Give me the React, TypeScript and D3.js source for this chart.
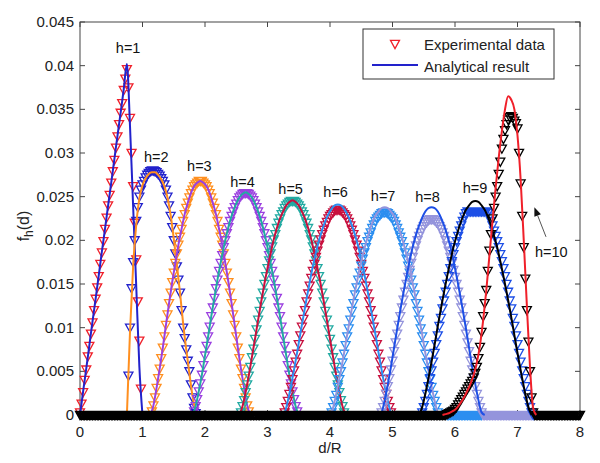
import React from 'react';
import * as d3 from 'd3';

// ---------- data (values in units of 1e-4) ----------
const STEP_EXP = 0.025;
const STEP_ANA = 0.05;

const xTicks = [0, 1, 2, 3, 4, 5, 6, 7, 8];
const yTicks = [0, 0.005, 0.01, 0.015, 0.02, 0.025, 0.03, 0.035, 0.04, 0.045];
const yTickLabels = ['0', '0.005', '0.01', '0.015', '0.02', '0.025', '0.03', '0.035', '0.04', '0.045'];

const hNames = ['h=1', 'h=2', 'h=3', 'h=4', 'h=5', 'h=6', 'h=7', 'h=8', 'h=9', 'h=10'];
const hLabelD = [0.77, 1.22, 1.91, 2.6, 3.37, 4.09, 4.85, 5.56, 6.32, 7.54];
const hLabelF = [0.0414, 0.029, 0.0279, 0.0261, 0.0253, 0.025, 0.0245, 0.0244, 0.0254, 0.0181];

const seriesColors = ['#f0202a', '#2222cc', '#ff8f1f', '#9b40e0', '#22aaa2', '#c8103e', '#2b8ef0', '#9494dc', '#1d4fe6', '#000000'];

const expStart = [0, 0.75, 1.125, 1.8, 2.55, 3.25, 4.0, 4.8, 5.45, 5.85];
const exp1 = [3,13,26,40,52,67,79,93,106,120,133,146,159,173,186,199,213,226,240,252,266,279,292,306,319,333,346,357,372,385,396,375,340,300,262,220,178,130,85,30,0];
const exp2 = [0,45,100,145,175,200,222,238,250,258,264,268,272,275,277,279,280,280,279,278,276,274,271,268,264,258,250,240,228,215,200,185,170,155,140,120,100,88,75,62,50,35,20,8,2,0];
const exp3 = [0,4,11,20,31,42,53,65,77,90,103,115,128,140,152,163,174,185,195,204,213,222,230,237,243,249,254,258,262,264,266,268,268,268,266,264,262,258,254,249,243,237,230,222,213,204,195,185,174,163,152,140,128,115,103,90,77,65,53,42,31,20,11,4,0];
const exp4 = [0,4,10,18,27,36,46,57,68,79,90,101,113,123,134,145,155,165,174,183,192,200,208,215,222,228,233,238,242,246,249,251,253,254,254,254,253,251,249,246,242,238,233,228,222,215,208,200,192,183,174,165,155,145,134,123,113,101,90,79,68,57,46,36,27,18,10,4,0];
const exp5 = [0,3,10,17,26,35,45,55,66,76,87,98,109,119,130,140,150,159,168,177,185,193,201,207,214,220,225,230,233,237,240,242,244,245,245,245,244,242,240,237,233,230,225,220,214,207,201,193,185,177,168,159,150,140,130,119,109,98,87,76,66,55,45,35,26,17,10,3,0];
const exp6 = [0,3,9,16,24,32,41,51,61,70,81,91,101,110,120,130,139,148,157,165,173,181,188,195,201,207,212,217,221,225,228,230,232,234,235,235,235,234,232,230,228,225,221,217,212,207,201,195,188,181,173,165,157,148,139,130,120,110,101,91,81,70,61,51,41,32,24,16,9,3,0];
const exp7 = [0,3,9,16,23,32,41,50,60,70,80,90,99,109,119,128,138,146,155,163,171,179,186,192,199,204,209,214,218,222,225,227,229,231,232,232,232,231,229,227,225,222,218,214,209,204,199,192,186,179,171,163,155,146,138,128,119,109,99,90,80,70,60,50,41,32,23,16,9,3,0];
const exp8 = [0,3,9,16,24,33,42,52,62,73,83,93,103,113,123,132,141,150,158,166,174,181,188,194,200,205,209,213,216,219,221,223,224,224,224,223,221,219,216,213,209,205,200,194,188,181,174,166,158,150,141,132,123,113,103,93,83,73,62,52,42,33,24,16,9,3,0];
const exp9 = [0,3,9,16,24,33,42,51,61,71,81,91,102,111,122,131,141,150,159,168,176,184,192,199,205,211,217,222,227,231,233,233,233,233,233,233,233,233,233,233,233,233,233,231,227,222,217,211,205,199,192,184,176,168,159,150,141,131,122,111,102,91,81,71,61,51,42,33,24,16,9,3,0];
const exp10 = [0,1,2,3,4,5,7,9,12,15,18,21,24,27,30,33,36,39,43,48,55,65,78,95,113,128,143,165,188,207,225,237,250,262,276,290,305,316,326,333,338,341,342,340,337,334,328,300,265,228,192,156,120,84,50,20,3,0];

const anaStart = [0, 0.75, 1.125, 1.8, 2.55, 3.225, 3.975, 4.775, 5.425, 5.8];
const ana1 = [0,27,53,80,107,133,160,187,213,240,266,293,320,346,373,402,331,239,147,55,0];
const ana2 = [0,95,170,218,248,263,271,276,278,278,275,270,262,249,229,202,172,140,105,75,48,22,5,0];
const ana3 = [0,11,31,53,77,103,128,152,174,195,213,230,243,254,262,266,268,266,262,254,243,230,213,195,174,152,128,103,77,53,31,11,0];
const ana4 = [0,10,27,46,68,90,113,134,155,174,192,208,222,233,242,249,253,255,253,249,242,233,222,208,192,174,155,134,113,90,68,46,27,10,0];
const ana5 = [0,10,26,45,66,87,109,130,150,168,185,201,214,225,233,240,244,246,244,240,233,225,214,201,185,168,150,130,109,87,66,45,26,10,0];
const ana6 = [0,3,16,33,52,72,93,113,133,152,170,186,200,212,222,230,236,240,241,240,236,230,222,212,200,186,170,152,133,113,93,72,52,33,16,3,0];
const ana7 = [0,3,16,33,51,71,92,112,132,150,168,183,197,209,220,228,233,237,238,237,233,228,220,209,197,183,168,150,132,112,92,71,51,33,16,3,0];
const ana8 = [0,3,17,35,55,77,99,120,140,159,177,193,206,217,226,233,237,238,237,233,226,217,206,193,177,159,140,120,99,77,55,35,17,3,0];
const ana9 = [0,9,24,42,61,81,102,122,141,159,176,192,205,217,227,235,240,244,245,244,240,235,227,217,205,192,176,159,141,122,102,81,61,42,24,9,0];
const ana10 = [0,1,2,4,6,10,15,21,28,36,46,60,80,108,142,182,222,260,295,325,350,365,361,350,320,270,200,125,55,8,0];

const expSeries = [exp1, exp2, exp3, exp4, exp5, exp6, exp7, exp8, exp9, exp10];
const anaSeries = [ana1, ana2, ana3, ana4, ana5, ana6, ana7, ana8, ana9, ana10];

// ---------- layout ----------
const W = 600;
const H = 463;
const M = { left: 80, right: 580, top: 22, bottom: 415 };
const FONT = "'Liberation Sans', Arial, Helvetica, sans-serif";

const x = d3.scaleLinear().domain([0, 8]).range([M.left, M.right]);
const y = d3.scaleLinear().domain([0, 0.045]).range([M.bottom, M.top]);

const grid = d3.range(0, 321).map((i) => +(i * STEP_EXP).toFixed(4));

function fullExp(start: number, vals: number[]) {
  return grid.map((d) => {
    const j = Math.round((d - start) / STEP_EXP);
    return j >= 0 && j < vals.length ? vals[j] / 1e4 : 0;
  });
}

const fullSeries = expSeries.map((v, k) => fullExp(expStart[k], v));
// for zero-valued markers, only the top-most (last drawn) series is visible at each point
const topZero = grid.map((_, i) => {
  let last = -1;
  fullSeries.forEach((s, k) => {
    if (s[i] === 0) last = k;
  });
  return last;
});

function triPath(vals: number[], k: number) {
  return grid
    .map((d, i) => {
      if (vals[i] === 0 && topZero[i] !== k) return '';
      const px = x(d);
      const py = y(vals[i]);
      return `M${(px - 4.5).toFixed(2)},${(py - 3.6).toFixed(2)}L${(px + 4.5).toFixed(2)},${(py - 3.6).toFixed(2)}L${px.toFixed(2)},${(py + 4.6).toFixed(2)}Z`;
    })
    .join('');
}

const lineGen = d3
  .line<[number, number]>()
  .x((p) => x(p[0]))
  .y((p) => y(p[1]))
  .curve(d3.curveMonotoneX);

function anaPath(start: number, vals: number[]) {
  const pts: [number, number][] = vals.map((v, j) => [start + j * STEP_ANA, v / 1e4]);
  return lineGen(pts) || '';
}

export default function App() {
  const arrowFrom = [x(7.456), y(0.0204)];
  const arrowTo = [x(7.27), y(0.0238)];
  const ang = Math.atan2(arrowTo[1] - arrowFrom[1], arrowTo[0] - arrowFrom[0]);
  const ah = 9;
  const aw = 3.5;
  const bx = arrowTo[0] - ah * Math.cos(ang);
  const by = arrowTo[1] - ah * Math.sin(ang);
  const headPts = [
    [arrowTo[0], arrowTo[1]],
    [bx + aw * Math.sin(ang), by - aw * Math.cos(ang)],
    [bx - aw * Math.sin(ang), by + aw * Math.cos(ang)],
  ]
    .map((p) => p.join(','))
    .join(' ');

  return (
    <svg
      width={W}
      height={H}
      viewBox={`0 0 ${W} ${H}`}
      style={{ position: 'absolute', left: 0, top: 0, background: '#fff' }}
      fontFamily={FONT}
    >
      <rect x={0} y={0} width={W} height={H} fill="#fff" />
      {/* plot box */}
      <rect x={M.left} y={M.top} width={M.right - M.left} height={M.bottom - M.top} fill="#fff" stroke="#444" strokeWidth={1} />
      {/* ticks */}
      {xTicks.map((t) => (
        <g key={'xt' + t}>
          <line x1={x(t)} x2={x(t)} y1={M.bottom} y2={M.bottom - 5} stroke="#444" />
          <line x1={x(t)} x2={x(t)} y1={M.top} y2={M.top + 5} stroke="#444" />
          <text x={x(t)} y={437} textAnchor="middle" fontSize={15} fill="#222">
            {t}
          </text>
        </g>
      ))}
      {yTicks.map((t, i) => (
        <g key={'yt' + t}>
          <line x1={M.left} x2={M.left + 5} y1={y(t)} y2={y(t)} stroke="#444" />
          <line x1={M.right} x2={M.right - 5} y1={y(t)} y2={y(t)} stroke="#444" />
          <text x={74} y={y(t) + 5} textAnchor="end" fontSize={15} fill="#222">
            {yTickLabels[i]}
          </text>
        </g>
      ))}
      {/* axis titles */}
      <text x={(M.left + M.right) / 2} y={453} textAnchor="middle" fontSize={15} fill="#222">
        d/R
      </text>
      <text transform="translate(29,226) rotate(-90)" textAnchor="middle" fontSize={16} fill="#222">
        f<tspan fontSize={12} dy={4}>h</tspan>
        <tspan dy={-4}>(d)</tspan>
      </text>

      {/* series */}
      {fullSeries.map((full, k) => (
        <g key={'s' + k}>
          <path d={triPath(full, k)} fill="none" stroke={seriesColors[k]} strokeWidth={1.3} />
          <path d={anaPath(anaStart[k], anaSeries[k])} fill="none" stroke={seriesColors[(k + 1) % 10]} strokeWidth={2} />
        </g>
      ))}

      {/* h labels */}
      {hNames.map((n, k) => (
        <text key={n} x={x(hLabelD[k])} y={y(hLabelF[k])} textAnchor="middle" fontSize={14.5} fill="#111">
          {n}
        </text>
      ))}
      {/* arrow for h=10 */}
      <line x1={arrowFrom[0]} y1={arrowFrom[1]} x2={bx} y2={by} stroke="#555" strokeWidth={1} />
      <polygon points={headPts} fill="#111" />

      {/* legend */}
      <rect x={363} y={29} width={191} height={50} fill="#fff" stroke="#333" strokeWidth={1} />
      <path d="M390.5,40.4L399.5,40.4L395,48.6Z" fill="none" stroke={seriesColors[0]} strokeWidth={1.3} />
      <text x={424} y={50} fontSize={15} fill="#222">
        Experimental data
      </text>
      <line x1={372} x2={418} y1={65} y2={65} stroke={seriesColors[1]} strokeWidth={2} />
      <text x={424} y={72} fontSize={15} fill="#222">
        Analytical result
      </text>
    </svg>
  );
}
